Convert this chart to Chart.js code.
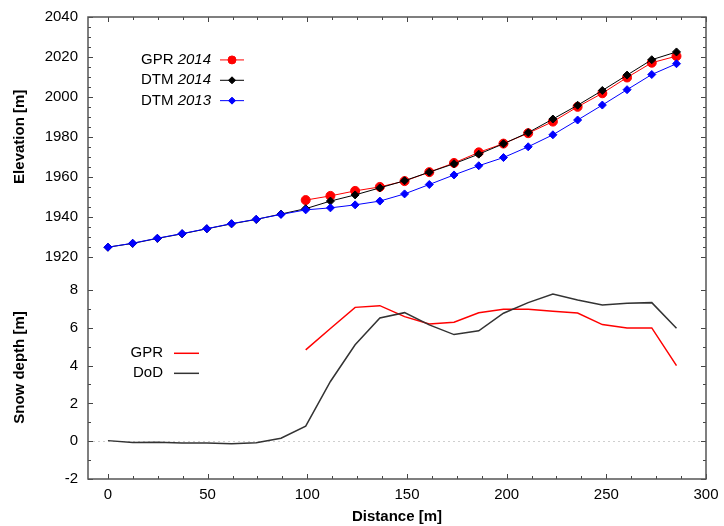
<!DOCTYPE html>
<html>
<head>
<meta charset="utf-8">
<script src="https://cdn.jsdelivr.net/npm/chart.js@4.4.1/dist/chart.umd.min.js"></script>
<style>
    body { margin: 0; background: #fff; }
    #grafico { display: block; }
</style>
</head>
<body>
<canvas id="grafico" width="724" height="526"></canvas>
<script>
// Distancia a lo largo del perfil [m]
const distancias = [0, 12.4, 24.8, 37.2, 49.6, 62, 74.4, 86.8, 99.2, 111.6, 124, 136.4,
    148.8, 161.2, 173.6, 186, 198.4, 210.8, 223.2, 235.6, 248, 260.4, 272.8, 285.2];

// Elevaciones [m]
const elevGPR2014 = [null, null, null, null, null, null, null, null,
    1948.3, 1950.4, 1952.9, 1954.9, 1957.8, 1962.3, 1966.9, 1972.2,
    1976.6, 1981.8, 1987.6, 1995.0, 2001.8, 2009.7, 2017.1, 2020.4];
const elevDTM2014 = [1924.7, 1926.6, 1929.1, 1931.4, 1933.9, 1936.4, 1938.6, 1941.3,
    1944.0, 1947.8, 1950.9, 1954.4, 1958.0, 1962.3, 1966.5, 1971.3,
    1976.5, 1982.1, 1988.9, 1995.8, 2003.2, 2010.9, 2018.6, 2022.5];
const elevDTM2013 = [1924.7, 1926.7, 1929.2, 1931.5, 1934.0, 1936.5, 1938.7, 1941.1,
    1943.4, 1944.4, 1945.9, 1947.8, 1951.4, 1956.1, 1960.9, 1965.5,
    1969.6, 1975.0, 1981.0, 1988.4, 1995.9, 2003.6, 2011.2, 2016.6];

// Espesor de nieve [m]
const nieveGPR = [null, null, null, null, null, null, null, null,
    4.83, 5.96, 7.08, 7.17, 6.59, 6.20, 6.29, 6.79,
    6.98, 6.98, 6.87, 6.78, 6.17, 5.99, 5.99, 4.00];
const nieveDoD = [0.03, -0.07, -0.05, -0.09, -0.10, -0.13, -0.08, 0.16,
    0.80, 3.16, 5.10, 6.52, 6.80, 6.15, 5.64, 5.84,
    6.77, 7.33, 7.79, 7.47, 7.20, 7.30, 7.33, 5.98];

// Etiquetas de los ejes
const ticksDistancia = [0, 50, 100, 150, 200, 250, 300];
const ticksElevacion = [1920, 1940, 1960, 1980, 2000, 2020, 2040];
const ticksNieve = [-2, 0, 2, 4, 6, 8];

const FUENTE = '"Liberation Sans", Arial, Helvetica, sans-serif';

function puntos(valores) {
    const lista = [];
    valores.forEach(function(v, i) {
        if (v !== null) lista.push({x: distancias[i], y: v});
    });
    return lista;
}

// Dibuja el marco, las marcas, etiquetas y leyendas al estilo gnuplot
const marcoGnuplot = {
    id: 'marcoGnuplot',
    beforeDatasetsDraw(chart) {
        const {ctx, chartArea: area, scales} = chart;
        const y0 = Math.round(scales.yNieve.getPixelForValue(0)) + 0.5;
        ctx.save();
        ctx.strokeStyle = '#cfcfcf';
        ctx.lineWidth = 1;
        ctx.setLineDash([2, 3]);
        ctx.beginPath();
        ctx.moveTo(area.left, y0);
        ctx.lineTo(area.right, y0);
        ctx.stroke();
        ctx.restore();
    },
    afterDraw(chart) {
        const {ctx, chartArea: area, scales} = chart;
        const sx = scales.x, se = scales.yElev, sn = scales.yNieve;
        ctx.save();

        // marcas hacia adentro
        ctx.strokeStyle = '#444';
        ctx.lineWidth = 1;
        ctx.beginPath();
        for (let v = 0; v <= 300; v += 12.5) {
            const px = Math.round(sx.getPixelForValue(v)) + 0.5;
            const len = v % 50 === 0 ? 5 : 3;
            ctx.moveTo(px, area.bottom); ctx.lineTo(px, area.bottom - len);
            ctx.moveTo(px, area.top); ctx.lineTo(px, area.top + len);
        }
        for (let v = 1920; v <= 2040; v += 5) {
            const py = Math.round(se.getPixelForValue(v)) + 0.5;
            const len = v % 20 === 0 ? 5 : 3;
            ctx.moveTo(area.left, py); ctx.lineTo(area.left + len, py);
            ctx.moveTo(area.right, py); ctx.lineTo(area.right - len, py);
        }
        for (let v = -2; v <= 8; v += 1) {
            const py = Math.round(sn.getPixelForValue(v)) + 0.5;
            const len = v % 2 === 0 ? 5 : 3;
            ctx.moveTo(area.left, py); ctx.lineTo(area.left + len, py);
            ctx.moveTo(area.right, py); ctx.lineTo(area.right - len, py);
        }
        ctx.stroke();

        // borde
        ctx.strokeStyle = '#555';
        ctx.lineWidth = 1.5;
        ctx.strokeRect(area.left, area.top, area.right - area.left, area.bottom - area.top);

        // etiquetas de las marcas
        ctx.fillStyle = '#000';
        ctx.font = '15px ' + FUENTE;
        ctx.textAlign = 'center';
        ctx.textBaseline = 'middle';
        ticksDistancia.forEach(function(v) {
            ctx.fillText(String(v), sx.getPixelForValue(v), area.bottom + 16);
        });
        ctx.textAlign = 'right';
        ticksElevacion.forEach(function(v) {
            ctx.fillText(String(v), area.left - 10, se.getPixelForValue(v));
        });
        ticksNieve.forEach(function(v) {
            ctx.fillText(String(v), area.left - 10, sn.getPixelForValue(v));
        });

        // titulos de los ejes
        ctx.font = 'bold 15px ' + FUENTE;
        ctx.textAlign = 'center';
        ctx.fillText('Distance [m]', (area.left + area.right) / 2, area.bottom + 38);
        const titulos = [
            ['Elevation [m]', se.getPixelForValue(1980)],
            ['Snow depth [m]', sn.getPixelForValue(3.9)]
        ];
        titulos.forEach(function(t) {
            ctx.save();
            ctx.translate(20, t[1]);
            ctx.rotate(-Math.PI / 2);
            ctx.fillText(t[0], 0, 0);
            ctx.restore();
        });

        // leyendas
        const ds = chart.data.datasets;
        const leyendaArriba = [ds[0], ds[1], ds[2]];
        leyendaArriba.forEach(function(d, i) {
            const y = se.getPixelForValue(2018.5 - i * 10.2);
            escribirEtiqueta(ctx, d.label, 211, y);
            ctx.strokeStyle = d.borderColor;
            ctx.fillStyle = d.backgroundColor;
            ctx.lineWidth = 1;
            ctx.beginPath();
            ctx.moveTo(220, y); ctx.lineTo(244, y);
            ctx.stroke();
            Chart.helpers.drawPoint(ctx, {
                pointStyle: d.pointStyle, radius: d.pointRadius - 0.5,
                rotation: 0, borderWidth: 1
            }, 232, y);
        });
        const leyendaAbajo = [ds[3], ds[4]];
        leyendaAbajo.forEach(function(d, i) {
            const y = sn.getPixelForValue(4.65 - i * 1.06);
            ctx.fillStyle = '#000';
            ctx.font = '15px ' + FUENTE;
            ctx.textAlign = 'right';
            ctx.fillText(d.label, 163, y);
            ctx.strokeStyle = d.borderColor;
            ctx.lineWidth = 1.5;
            ctx.beginPath();
            ctx.moveTo(174, y); ctx.lineTo(199, y);
            ctx.stroke();
        });
        ctx.restore();
    }
};

// "GPR 2014": nombre normal y año en cursiva, alineado a la derecha
function escribirEtiqueta(ctx, texto, xDer, y) {
    const partes = texto.split(' ');
    ctx.fillStyle = '#000';
    ctx.textAlign = 'left';
    ctx.font = 'italic 15px ' + FUENTE;
    const anchoAnio = ctx.measureText(partes[1]).width;
    ctx.font = '15px ' + FUENTE;
    const anchoNombre = ctx.measureText(partes[0] + ' ').width;
    const x0 = xDer - anchoAnio - anchoNombre;
    ctx.fillText(partes[0] + ' ', x0, y);
    ctx.font = 'italic 15px ' + FUENTE;
    ctx.fillText(partes[1], x0 + anchoNombre, y);
}

document.addEventListener('DOMContentLoaded', function() {
    const ctx = document.getElementById('grafico').getContext('2d');
    new Chart(ctx, {
        type: 'line',
        data: {
            datasets: [{
                label: 'GPR 2014',
                data: puntos(elevGPR2014),
                yAxisID: 'yElev',
                borderColor: '#ff0000',
                backgroundColor: '#ff0000',
                borderWidth: 1,
                pointStyle: 'circle',
                pointRadius: 4.5,
                pointBorderWidth: 1,
                order: 2
            }, {
                label: 'DTM 2014',
                data: puntos(elevDTM2014),
                yAxisID: 'yElev',
                borderColor: '#000000',
                backgroundColor: '#000000',
                borderWidth: 1,
                pointStyle: 'rectRot',
                pointRadius: 4,
                pointBorderWidth: 1,
                order: 1
            }, {
                label: 'DTM 2013',
                data: puntos(elevDTM2013),
                yAxisID: 'yElev',
                borderColor: '#0000ff',
                backgroundColor: '#0000ff',
                borderWidth: 1,
                pointStyle: 'rectRot',
                pointRadius: 4,
                pointBorderWidth: 1,
                order: 0
            }, {
                label: 'GPR',
                data: puntos(nieveGPR),
                yAxisID: 'yNieve',
                borderColor: '#ff0000',
                borderWidth: 1.5,
                pointRadius: 0,
                order: 4
            }, {
                label: 'DoD',
                data: puntos(nieveDoD),
                yAxisID: 'yNieve',
                borderColor: '#333333',
                borderWidth: 1.5,
                pointRadius: 0,
                order: 3
            }]
        },
        options: {
            responsive: false,
            animation: false,
            devicePixelRatio: 1,
            layout: {
                padding: {left: 88, top: 17, right: 18, bottom: 47}
            },
            elements: {
                line: { tension: 0, fill: false }
            },
            scales: {
                x: { type: 'linear', min: -10, max: 300, display: false },
                yElev: { type: 'linear', min: 1808.6, max: 2040, display: false },
                yNieve: { type: 'linear', min: -2, max: 22.44, display: false }
            },
            plugins: {
                legend: { display: false },
                tooltip: { enabled: false }
            }
        },
        plugins: [marcoGnuplot]
    });
});
</script>
</body>
</html>
